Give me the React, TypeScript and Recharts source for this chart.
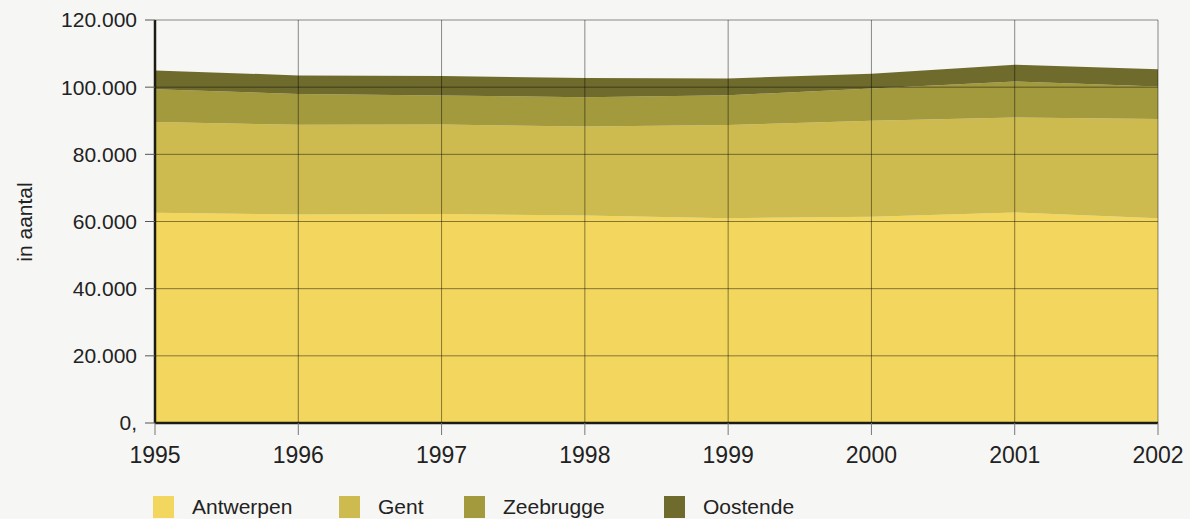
import React from "react";
import { AreaChart, Area, XAxis, YAxis, ReferenceLine } from "recharts";

const years = [1995, 1996, 1997, 1998, 1999, 2000, 2001, 2002];
const antwerpen = [62600, 62100, 62200, 61800, 61000, 61400, 62700, 61000];
const gent = [27000, 26700, 26700, 26500, 27700, 28600, 28300, 29500];
const zeebrugge = [9800, 9200, 8600, 8700, 8900, 9600, 10700, 9700];
const oostende = [5600, 5500, 5800, 5700, 5000, 4400, 5000, 5100];
const yTicks = [0, 20000, 40000, 60000, 80000, 100000, 120000];
const seriesNames = ["Antwerpen", "Gent", "Zeebrugge", "Oostende"];
const seriesColors = ["#f2d65e", "#cdbb4f", "#a29a3d", "#6f6b2c"];

const data = years.map((y, i) => ({
  year: y,
  Antwerpen: antwerpen[i],
  Gent: gent[i],
  Zeebrugge: zeebrugge[i],
  Oostende: oostende[i],
}));

const FONT = "'Liberation Sans', Arial, Helvetica, sans-serif";

const formatY = (v: number) => {
  if (v === 0) return "0,";
  const s = String(v);
  return s.slice(0, s.length - 3) + "." + s.slice(s.length - 3);
};

const legendX = [153, 339, 464, 664];
const GRID = "rgba(0,0,0,0.45)";

export default function App() {
  return (
    <div
      style={{
        position: "absolute",
        left: 0,
        top: 0,
        width: 1190,
        height: 519,
        background: "#f6f6f4",
        fontFamily: FONT,
        overflow: "hidden",
      }}
    >
      <div
        style={{
          position: "absolute",
          left: 25,
          top: 222,
          transform: "translate(-50%, -50%) rotate(-90deg)",
          fontSize: 21,
          color: "#222",
          whiteSpace: "nowrap",
        }}
      >
        in aantal
      </div>
      <AreaChart
        width={1190}
        height={519}
        data={data}
        margin={{ top: 20, right: 32, bottom: 66, left: 0 }}
      >
        <XAxis
          dataKey="year"
          type="number"
          domain={[1995, 2002]}
          ticks={years}
          allowDecimals={false}
          height={30}
          tickSize={12}
          tickMargin={12}
          tickLine={{ stroke: "#777", strokeWidth: 1 }}
          axisLine={{ stroke: "#1c1c14", strokeWidth: 2.5 }}
          tick={{ fill: "#222", fontSize: 23, fontFamily: FONT }}
          interval={0}
        />
        <YAxis
          type="number"
          domain={[0, 120000]}
          ticks={yTicks}
          width={155}
          tickSize={10}
          tickMargin={8}
          tickFormatter={formatY}
          tickLine={{ stroke: "#555", strokeWidth: 1 }}
          axisLine={{ stroke: "#1c1c14", strokeWidth: 2.5 }}
          tick={{ fill: "#222", fontSize: 21, fontFamily: FONT }}
          interval={0}
        />
        {seriesNames.map((n, i) => (
          <Area
            key={n}
            type="linear"
            dataKey={n}
            stackId="1"
            stroke="none"
            fill={seriesColors[i]}
            fillOpacity={1}
            isAnimationActive={false}
          />
        ))}
        {yTicks.slice(1).map((v) => (
          <ReferenceLine key={"y" + v} y={v} stroke={GRID} strokeWidth={1} />
        ))}
        {years.slice(1).map((v) => (
          <ReferenceLine key={"x" + v} x={v} stroke={GRID} strokeWidth={1} />
        ))}
      </AreaChart>
      {seriesNames.map((n, i) => (
        <div
          key={n}
          style={{
            position: "absolute",
            left: legendX[i],
            top: 496,
            display: "flex",
            alignItems: "center",
            fontSize: 21,
            color: "#222",
            lineHeight: "22px",
          }}
        >
          <span
            style={{
              display: "inline-block",
              width: 21,
              height: 22,
              background: seriesColors[i],
              marginRight: 18,
            }}
          />
          <span>{n}</span>
        </div>
      ))}
    </div>
  );
}
